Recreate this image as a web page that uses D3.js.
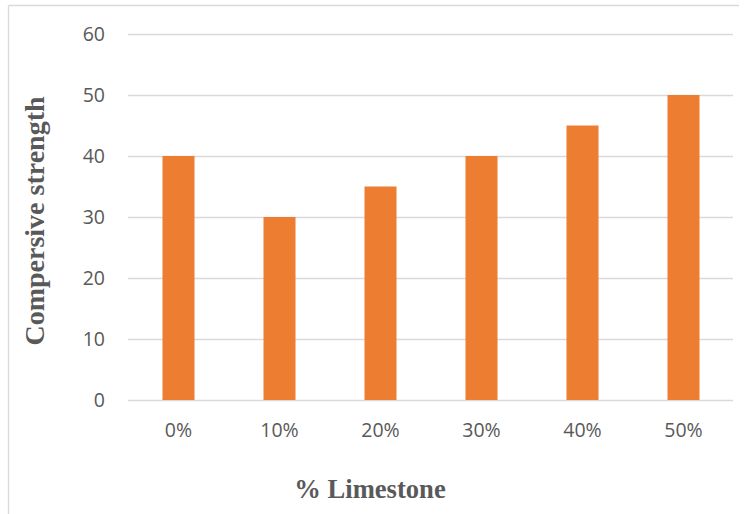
<!DOCTYPE html>
<html>
<head>
<meta charset="utf-8">
<script src="https://cdn.jsdelivr.net/npm/d3@7"></script>
<style>
  html, body { margin: 0; padding: 0; background: #fff; }
  svg { display: block; }
</style>
</head>
<body>
<svg id="chart" width="749" height="514"></svg>
<script>
const categories = ["0%", "10%", "20%", "30%", "40%", "50%"];
const values = [40, 30, 35, 40, 45, 50];
const yTicks = [0, 10, 20, 30, 40, 50, 60];
const xTitle = "% Limestone";
const yTitle = "Compersive strength";

const svg = d3.select("#chart");
const W = 749, H = 514;
const plot = { left: 128, right: 734, top: 34, bottom: 400 };

// outer frame (top and left edges visible)
svg.append("line").attr("x1", 8.5).attr("x2", 739).attr("y1", 5.5).attr("y2", 5.5)
  .attr("stroke", "#d9d9d9").attr("stroke-width", 1.3);
svg.append("line").attr("x1", 8.5).attr("x2", 8.5).attr("y1", 5.5).attr("y2", H)
  .attr("stroke", "#d9d9d9").attr("stroke-width", 1.3);

const x = d3.scaleBand().domain(categories).range([plot.left, plot.right])
  .paddingInner(0.683).paddingOuter(0.3415);
const y = d3.scaleLinear().domain([0, 60]).range([plot.bottom, plot.top]);

// gridlines
svg.append("g").selectAll("line").data(yTicks).join("line")
  .attr("x1", plot.left).attr("x2", plot.right - 1)
  .attr("y1", d => Math.round(y(d)) + 0.5).attr("y2", d => Math.round(y(d)) + 0.5)
  .attr("stroke", "#d9d9d9").attr("stroke-width", 1.5);

// bars
svg.append("g").selectAll("rect").data(values).join("rect")
  .attr("x", (d, i) => x(categories[i]))
  .attr("width", x.bandwidth())
  .attr("y", d => y(d))
  .attr("height", d => y(0) - y(d))
  .attr("fill", "#ED7D31");

// y axis labels
const yAxis = d3.axisLeft(y).tickValues(yTicks).tickSize(0).tickPadding(0);
const gy = svg.append("g").attr("transform", "translate(105,0)").call(yAxis);
gy.select(".domain").remove();
gy.selectAll("text").attr("fill", "#595959").attr("font-family", "'Open Sans', sans-serif")
  .attr("font-size", 19.5).attr("dy", "0.35em");

// x axis labels
const xAxis = d3.axisBottom(x).tickSize(0).tickPadding(0);
const gx = svg.append("g").attr("transform", "translate(0,423)").call(xAxis);
gx.select(".domain").remove();
gx.selectAll("text").attr("fill", "#595959").attr("font-family", "'Open Sans', sans-serif")
  .attr("font-size", 19.5);

// titles
svg.append("text").attr("x", 370).attr("y", 498).attr("text-anchor", "middle")
  .attr("font-family", "'Liberation Serif', 'Times New Roman', serif").attr("font-weight", "bold")
  .attr("font-size", 26.6).attr("fill", "#595959").text(xTitle);

svg.append("text").attr("transform", "translate(44,221) rotate(-90)").attr("text-anchor", "middle")
  .attr("font-family", "'Liberation Serif', 'Times New Roman', serif").attr("font-weight", "bold")
  .attr("font-size", 28).attr("fill", "#595959").text(yTitle);
</script>
</body>
</html>
